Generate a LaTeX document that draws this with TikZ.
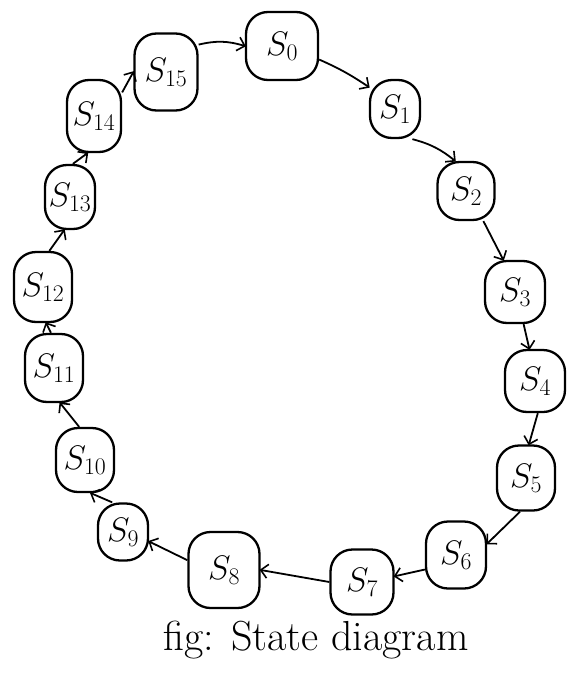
\RequirePackage{fix-cm}
\documentclass[tikz,border=0pt]{standalone}
\usetikzlibrary{arrows.meta}
\begin{document}
\begin{tikzpicture}[x=1pt,y=-1pt,
  st/.style={draw=black, line width=2.3pt, rounded corners=22pt, inner sep=0pt,
    font=\fontsize{34}{38}\selectfont},
  tr/.style={line width=1.8pt, -{Straight Barb[length=7pt,width=14pt,line width=1.6pt]}, shorten >=-1pt}
]
\useasboundingbox (0,0) rectangle (568,691);
\node[st, minimum width=72pt, minimum height=68pt] (s0) at (282,46) {$S_{0}$};
\node[st, minimum width=50pt, minimum height=58pt] (s1) at (395,109) {$S_{1}$};
\node[st, minimum width=57pt, minimum height=58pt] (s2) at (466,191) {$S_{2}$};
\node[st, minimum width=60pt, minimum height=62pt] (s3) at (515,292) {$S_{3}$};
\node[st, minimum width=60pt, minimum height=62pt] (s4) at (535,381) {$S_{4}$};
\node[st, minimum width=58pt, minimum height=65pt] (s5) at (526,478) {$S_{5}$};
\node[st, minimum width=60pt, minimum height=67pt] (s6) at (456,555) {$S_{6}$};
\node[st, minimum width=63pt, minimum height=65pt] (s7) at (362,582) {$S_{7}$};
\node[st, minimum width=71pt, minimum height=76pt] (s8) at (224,570) {$S_{8}$};
\node[st, minimum width=50pt, minimum height=57pt] (s9) at (123,532) {$S_{9}$};
\node[st, minimum width=58pt, minimum height=64pt] (s10) at (85,460) {$S_{10}$};
\node[st, minimum width=58pt, minimum height=68pt] (s11) at (54,368) {$S_{11}$};
\node[st, minimum width=58pt, minimum height=70pt] (s12) at (43,287) {$S_{12}$};
\node[st, minimum width=50pt, minimum height=64pt] (s13) at (70,197) {$S_{13}$};
\node[st, minimum width=54pt, minimum height=72pt] (s14) at (94,116) {$S_{14}$};
\node[st, minimum width=63pt, minimum height=77pt] (s15) at (166,72) {$S_{15}$};

\draw[tr] (s15.40) to[bend left=15] (s0.west);
\draw[tr] (s0.-20) to[bend left=5] (s1.140);
\draw[tr] (s1.-60) to[bend left=12] (s2.110);
\draw[tr] (s2.-60) -- (s3.110);
\draw[tr] (s3.-75) -- (s4.100);
\draw[tr] (s4.-85) -- (s5.85);
\draw[tr] (s5.-100) -- (s6.20);
\draw[tr] (s6.-155) -- (s7.10);
\draw[tr] (s7.west) -- (s8.east);
\draw[tr] (s8.165) -- (s9.-20);
\draw[tr] (s9.110) -- (s10.-80);
\draw[tr] (s10.100) -- (s11.-80);
\draw[tr] (s11.95) -- (s12.-85);
\draw[tr] (s12.80) -- (s13.-100);
\draw[tr] (s13.85) -- (s14.-100);
\draw[tr] (s14.40) -- (s15.west);

\node[font=\fontsize{42}{48}\selectfont] (cap) at (316,640) {fig: State diagram};
\end{tikzpicture}
\end{document}
